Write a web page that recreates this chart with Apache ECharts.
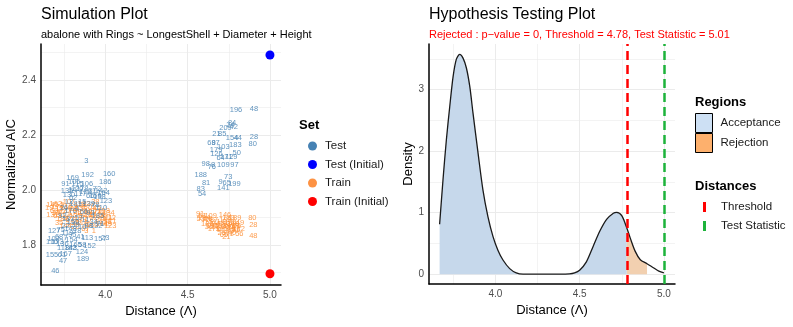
<!DOCTYPE html>
<html>
<head>
<meta charset="utf-8">
<script src="https://cdn.jsdelivr.net/npm/echarts@6/dist/echarts.min.js"></script>
<style>
  html, body { margin: 0; padding: 0; background: #fff; }
  #chart { width: 793px; height: 327px; }
</style>
</head>
<body>
<div id="chart"></div>
<script>
// simulation plot: [distance, normalized AIC, id]
var testPts = [
  [3.885,2.107,3],[3.893,2.056,192],[4.024,2.060,160],[3.802,2.044,169],[4.000,2.030,186],
  [3.758,2.023,91],[3.832,2.023,115],[3.889,2.023,106],[3.812,2.028,105],[3.768,1.996,135],
  [3.800,2.000,14],[3.830,2.004,120],[3.860,2.002,178],[3.950,2.005,72],[3.975,1.998,142],
  [3.990,1.990,164],[3.909,1.977,66],[3.940,1.978,159],[3.965,1.975,198],[4.004,1.959,123],
  [3.780,1.982,130],[3.805,1.970,62],[3.850,1.985,117],[3.880,1.992,108],[3.920,1.996,31],
  [3.780,1.955,12],[3.820,1.948,181],[3.860,1.958,15],[3.900,1.950,139],[3.940,1.945,78],
  [3.975,1.935,110],[3.750,1.935,26],[3.790,1.925,170],[3.830,1.930,4],[3.870,1.922,56],
  [3.910,1.915,93],[3.955,1.905,185],[3.740,1.905,92],[3.775,1.895,137],[3.805,1.885,150],
  [3.840,1.900,57],[3.880,1.890,11],[3.930,1.885,34],[3.970,1.875,71],[3.760,1.870,22],
  [3.790,1.860,148],[3.820,1.872,39],[3.860,1.865,10],[3.900,1.870,88],[3.945,1.868,132],
  [3.690,1.850,127],[3.730,1.855,75],[3.770,1.845,119],[3.800,1.838,95],[3.830,1.850,18],
  [3.687,1.823,102],[3.720,1.830,68],[3.760,1.825,7],[3.795,1.820,154],[3.850,1.830,41],
  [3.890,1.826,113],[3.970,1.823,157],[4.000,1.826,23],[3.677,1.812,116],[3.710,1.810,173],
  [3.740,1.805,136],[3.905,1.796,152],[3.860,1.800,58],[3.744,1.790,118],[3.800,1.788,82],
  [3.859,1.774,124],[3.677,1.765,155],[3.737,1.765,61],[3.760,1.768,167],[3.865,1.750,189],
  [3.744,1.744,47],[3.697,1.705,46],[3.790,1.790,143],[3.820,1.800,165],
  [4.794,2.290,196],[4.903,2.296,48],[4.903,2.193,28],[4.895,2.167,80],[4.770,2.190,154],
  [4.805,2.190,44],[4.790,2.165,183],[4.798,2.135,50],[4.675,2.205,21],[4.710,2.205,85],
  [4.730,2.225,209],[4.760,2.235,24],[4.780,2.228,42],[4.770,2.242,84],[4.645,2.170,69],
  [4.670,2.172,87],[4.717,2.156,103],[4.673,2.144,179],[4.675,2.130,126],[4.700,2.118,64],
  [4.735,2.120,171],[4.765,2.120,129],[4.610,2.096,98],[4.647,2.083,76],[4.655,2.090,8],
  [4.717,2.090,109],[4.784,2.090,97],[4.580,2.056,188],[4.747,2.048,73],[4.612,2.026,81],
  [4.737,2.024,65],[4.784,2.021,199],[4.717,2.008,141],[4.580,2.004,83],[4.588,1.987,54],
  [4.700,2.030,9]
];
var trainPts = [
  [3.66,1.935,19],[3.68,1.945,145],[3.69,1.925,60],[3.70,1.915,33],[3.71,1.94,174],
  [3.72,1.93,13],[3.73,1.92,90],[3.74,1.945,5],[3.75,1.91,112],[3.76,1.935,140],
  [3.77,1.925,37],[3.78,1.90,101],[3.79,1.94,163],[3.80,1.915,17],[3.81,1.93,86],
  [3.82,1.905,125],[3.83,1.92,59],[3.84,1.935,43],[3.85,1.90,195],[3.86,1.915,104],
  [3.87,1.93,32],[3.88,1.905,147],[3.89,1.92,74],[3.90,1.895,27],[3.91,1.925,166],
  [3.92,1.91,89],[3.93,1.90,52],[3.94,1.92,177],[3.95,1.89,2],[3.96,1.905,138],
  [3.97,1.915,70],[3.98,1.895,93],[3.99,1.905,30],[4.00,1.885,156],[4.01,1.90,111],
  [4.03,1.887,121],[4.03,1.871,123],[4.015,1.875,49],[3.98,1.875,161],[3.885,1.85,3],
  [3.92,1.872,180],[3.89,1.875,16],[3.86,1.88,114],[3.83,1.885,99],[3.80,1.88,153],
  [3.77,1.89,6],[3.74,1.895,187],[3.71,1.905,63],[3.68,1.91,131],[3.72,1.88,35],
  [3.76,1.87,144],[3.82,1.865,20],[3.88,1.86,67],[3.93,1.85,1],[3.85,1.945,128],
  [3.90,1.94,176],[3.95,1.935,45],[3.99,1.925,158],[4.02,1.915,134],[4.04,1.90,12],
  [3.70,1.95,162],[3.78,1.955,107],[3.87,1.95,182],[3.94,1.955,38],
  [4.576,1.913,91],[4.59,1.905,51],[4.60,1.90,194],[4.58,1.895,53],[4.61,1.89,77],
  [4.625,1.895,29],[4.64,1.885,151],[4.62,1.875,126],[4.63,1.865,36],[4.65,1.87,100],
  [4.66,1.86,172],[4.67,1.875,94],[4.68,1.865,117],[4.69,1.855,9],[4.70,1.87,133],
  [4.707,1.844,25],[4.71,1.86,175],[4.72,1.875,190],[4.727,1.91,146],[4.74,1.865,200],
  [4.745,1.85,193],[4.75,1.87,191],[4.755,1.84,71],[4.76,1.88,184],[4.765,1.86,79],
  [4.77,1.845,40],[4.775,1.875,168],[4.78,1.862,197],[4.788,1.90,189],[4.795,1.855,55],
  [4.80,1.87,96],[4.805,1.88,149],[4.814,1.84,56],[4.81,1.86,122],[4.73,1.89,198],
  [4.70,1.885,14],[4.66,1.89,87],[4.64,1.905,109],[4.75,1.90,183],[4.72,1.835,65],
  [4.735,1.83,21],[4.893,1.897,80],[4.899,1.873,28],[4.899,1.832,48]
];
var testInitial = [[5.0, 2.49]];
var trainInitial = [[5.0, 1.696]];

// hypothesis testing plot: density of distances
var densX = [3.669,3.689,3.709,3.729,3.749,3.768,3.788,3.808,3.828,3.848,3.867,3.897,3.926,3.956,3.986,
  4.015,4.045,4.085,4.124,4.164,4.30,4.44,4.47,4.50,4.54,4.58,4.62,4.66,4.70,4.72,4.75,4.78,
  4.80,4.83,4.86,4.90,4.94,4.97,5.00];
var densY = [0.81,1.53,2.18,2.72,3.21,3.49,3.57,3.51,3.35,3.05,2.62,1.97,1.37,0.93,0.61,
  0.39,0.23,0.09,0.02,0.0,0.0,0.005,0.02,0.065,0.20,0.45,0.70,0.89,0.99,1.005,0.95,0.75,
  0.59,0.37,0.235,0.17,0.10,0.05,0.02];
var threshold = 4.78;
var testStat = 5.005;
var rejectEnd = 4.90;

// tick / grid values
var xTicks = [4.0, 4.5, 5.0];
var xMinor = [3.75, 4.25, 4.75];
var aicTicks = [1.8, 2.0, 2.2, 2.4];
var aicMinor = [1.7, 1.9, 2.1, 2.3, 2.5];
var densTicks = [0, 1, 2, 3];
var densMinor = [0.5, 1.5, 2.5, 3.5];

var FONT = 'Liberation Sans, Arial, sans-serif';
var chart = echarts.init(document.getElementById('chart'));

function gridLines(xMaj, xMin, yMaj, yMin) {
  var d = [];
  xMaj.forEach(function (v) { d.push({ xAxis: v, lineStyle: { width: 1 } }); });
  xMin.forEach(function (v) { d.push({ xAxis: v, lineStyle: { width: 0.6 } }); });
  yMaj.forEach(function (v) { d.push({ yAxis: v, lineStyle: { width: 1 } }); });
  yMin.forEach(function (v) { d.push({ yAxis: v, lineStyle: { width: 0.6 } }); });
  return d;
}
function gridSeries(idx, xMaj, xMin, yMaj, yMin) {
  return {
    type: 'line', xAxisIndex: idx, yAxisIndex: idx, data: [], silent: true, z: 0,
    markLine: {
      silent: true, symbol: 'none', z: 0, animation: false,
      label: { show: false },
      lineStyle: { color: '#ebebeb', type: 'solid' },
      emphasis: { disabled: true },
      data: gridLines(xMaj, xMin, yMaj, yMin)
    }
  };
}
function valAxis(idx, min, max, ticks, fmt, name, gap) {
  return {
    type: 'value', gridIndex: idx, min: min, max: max,
    name: name, nameLocation: 'middle', nameGap: gap,
    nameTextStyle: { fontFamily: FONT, fontSize: 13, color: '#000' },
    axisLine: { show: true, onZero: false, lineStyle: { color: '#000', width: 1.5 } },
    axisTick: { show: false },
    splitLine: { show: false },
    axisLabel: { customValues: ticks, formatter: fmt, fontFamily: FONT, fontSize: 10, color: '#4d4d4d', margin: 5 }
  };
}
function f1(v) { return Number(v).toFixed(1); }
function f0(v) { return String(Math.round(v)); }

var accData = [], rejData = [], curveData = [];
for (var i = 0; i < densX.length; i++) {
  curveData.push([densX[i], densY[i]]);
  if (densX[i] <= threshold) accData.push([densX[i], densY[i]]);
  if (densX[i] >= threshold && densX[i] <= rejectEnd) rejData.push([densX[i], densY[i]]);
}

function labelFmt(p) { return p.value[2]; }

chart.setOption({
  animation: false,
  textStyle: { fontFamily: FONT },
  title: [
    { text: 'Simulation Plot', left: 36, top: 2, textStyle: { fontFamily: FONT, fontSize: 16, fontWeight: 'normal', color: '#000' } },
    { text: 'abalone with Rings ~ LongestShell + Diameter + Height', left: 36, top: 24, textStyle: { fontFamily: FONT, fontSize: 11, fontWeight: 'normal', color: '#000' } },
    { text: 'Set', left: 294, top: 114, textStyle: { fontFamily: FONT, fontSize: 13, fontWeight: 'bold', color: '#000' } },
    { text: 'Hypothesis Testing Plot', left: 424, top: 2, textStyle: { fontFamily: FONT, fontSize: 16, fontWeight: 'normal', color: '#000' } },
    { text: 'Rejected : p\u2212value = 0, Threshold = 4.78, Test Statistic = 5.01', left: 424, top: 24, textStyle: { fontFamily: FONT, fontSize: 11, fontWeight: 'normal', color: '#ff0000' } },
    { text: 'Regions', left: 690, top: 91, textStyle: { fontFamily: FONT, fontSize: 13, fontWeight: 'bold', color: '#000' } },
    { text: 'Distances', left: 690, top: 175, textStyle: { fontFamily: FONT, fontSize: 13, fontWeight: 'bold', color: '#000' } }
  ],
  legend: [
    {
      orient: 'vertical', left: 303, top: 135, itemWidth: 9, itemHeight: 9, itemGap: 6.5,
      selectedMode: false, icon: 'circle',
      textStyle: { fontFamily: FONT, fontSize: 11.5, color: '#1a1a1a', padding: [0, 0, 0, 3] },
      data: [
        { name: 'Test', itemStyle: { color: '#4682b4', opacity: 1 } },
        { name: 'Test (Initial)', itemStyle: { color: '#0000ff', opacity: 1 } },
        { name: 'Train', itemStyle: { color: '#fd9243', opacity: 1 } },
        { name: 'Train (Initial)', itemStyle: { color: '#ff0000', opacity: 1 } }
      ]
    },
    {
      orient: 'vertical', left: 690, top: 108, itemWidth: 17, itemHeight: 19, itemGap: 0,
      selectedMode: false, icon: 'rect',
      textStyle: { fontFamily: FONT, fontSize: 11.5, color: '#1a1a1a', padding: [0, 0, 0, 3] },
      data: [
        { name: 'Acceptance', itemStyle: { color: '#cde0f4', borderColor: '#000', borderWidth: 1, opacity: 1 } },
        { name: 'Rejection', itemStyle: { color: '#fdb06d', borderColor: '#000', borderWidth: 1, opacity: 1 } }
      ]
    },
    {
      orient: 'vertical', left: 698, top: 196, itemWidth: 3, itemHeight: 10, itemGap: 7,
      selectedMode: false, icon: 'rect',
      textStyle: { fontFamily: FONT, fontSize: 11.5, color: '#1a1a1a', padding: [0, 0, 0, 10] },
      data: [
        { name: 'Threshold', itemStyle: { color: '#ff0000', opacity: 1 } },
        { name: 'Test Statistic', itemStyle: { color: '#1db33b', opacity: 1 } }
      ]
    }
  ],
  grid: [
    { left: 41, top: 44, width: 240, height: 241, outerBoundsMode: 'none' },
    { left: 429, top: 44, width: 246, height: 240, outerBoundsMode: 'none' }
  ],
  xAxis: [
    valAxis(0, 3.61, 5.067, xTicks, f1, 'Distance (\u039B)', 19),
    valAxis(1, 3.606, 5.066, xTicks, f1, 'Distance (\u039B)', 18)
  ],
  yAxis: [
    valAxis(0, 1.655, 2.53, aicTicks, f1, 'Normalized AIC', 20),
    valAxis(1, -0.16, 3.74, densTicks, f0, 'Density', 13)
  ],
  series: [
    gridSeries(0, xTicks, xMinor, aicTicks, aicMinor),
    gridSeries(1, xTicks, xMinor, densTicks, densMinor),
    {
      name: 'Train', type: 'scatter', xAxisIndex: 0, yAxisIndex: 0, z: 2,
      symbolSize: 1, itemStyle: { color: 'rgba(0,0,0,0)', opacity: 1 }, silent: true,
      label: { show: true, position: 'inside', formatter: labelFmt, fontSize: 7.5, fontFamily: FONT, color: 'rgba(253,141,50,0.85)' },
      data: trainPts
    },
    {
      name: 'Test', type: 'scatter', xAxisIndex: 0, yAxisIndex: 0, z: 3,
      symbolSize: 1, itemStyle: { color: 'rgba(0,0,0,0)', opacity: 1 }, silent: true,
      label: { show: true, position: 'inside', formatter: labelFmt, fontSize: 7.5, fontFamily: FONT, color: 'rgba(70,130,180,0.85)' },
      data: testPts
    },
    {
      name: 'Test (Initial)', type: 'scatter', xAxisIndex: 0, yAxisIndex: 0, z: 4,
      symbolSize: 9, itemStyle: { color: '#0000ff', opacity: 1 }, data: testInitial
    },
    {
      name: 'Train (Initial)', type: 'scatter', xAxisIndex: 0, yAxisIndex: 0, z: 4,
      symbolSize: 9, itemStyle: { color: '#ff0000', opacity: 1 }, data: trainInitial
    },
    {
      name: 'Acceptance', type: 'line', xAxisIndex: 1, yAxisIndex: 1, z: 2,
      showSymbol: false, smooth: 0.3, lineStyle: { width: 0 },
      itemStyle: { color: '#c6d8eb' },
      areaStyle: { color: '#c6d8eb', opacity: 1, origin: 'auto' },
      data: accData
    },
    {
      name: 'Rejection', type: 'line', xAxisIndex: 1, yAxisIndex: 1, z: 2,
      showSymbol: false, smooth: 0.3, lineStyle: { width: 0 },
      itemStyle: { color: '#f2d0b0' },
      areaStyle: { color: '#f2d0b0', opacity: 1, origin: 'auto' },
      data: rejData
    },
    {
      name: 'density', type: 'line', xAxisIndex: 1, yAxisIndex: 1, z: 3,
      showSymbol: false, smooth: 0.3, lineStyle: { color: '#1a1a1a', width: 1.3 },
      data: curveData
    },
    {
      name: 'Threshold', type: 'line', xAxisIndex: 1, yAxisIndex: 1, z: 4, data: [],
      itemStyle: { color: '#ff0000' },
      markLine: {
        silent: true, symbol: 'none', z: 4, label: { show: false },
        lineStyle: { color: '#ff0000', width: 2.5, type: [9, 5] },
        data: [{ xAxis: threshold }]
      }
    },
    {
      name: 'Test Statistic', type: 'line', xAxisIndex: 1, yAxisIndex: 1, z: 4, data: [],
      itemStyle: { color: '#1db33b' },
      markLine: {
        silent: true, symbol: 'none', z: 4, label: { show: false },
        lineStyle: { color: '#1db33b', width: 2.5, type: [9, 5] },
        data: [{ xAxis: testStat }]
      }
    }
  ]
});
</script>
</body>
</html>
